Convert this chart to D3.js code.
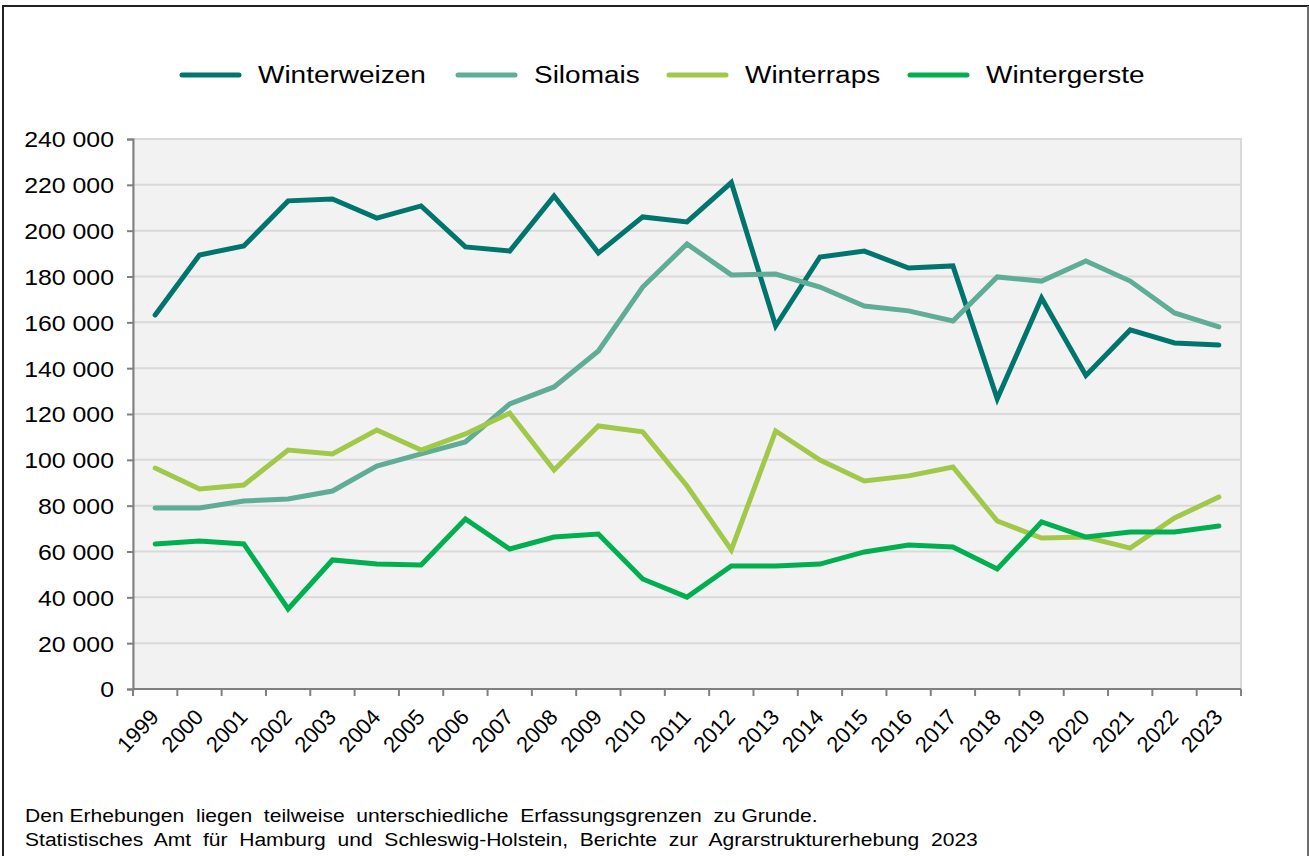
<!DOCTYPE html>
<html><head><meta charset="utf-8">
<script src="https://cdn.jsdelivr.net/npm/d3@7"></script>
<style>
html,body{margin:0;padding:0;background:#fff;}
svg{display:block;font-family:"Liberation Sans",Arial,sans-serif;}
</style></head>
<body>
<svg id="c" width="1309" height="856"></svg>
<script>
const years = ["1999","2000","2001","2002","2003","2004","2005","2006","2007","2008","2009","2010","2011","2012","2013","2014","2015","2016","2017","2018","2019","2020","2021","2022","2023"];
const winterweizen = [163200,189400,193300,213000,213800,205500,210800,192900,191100,215100,190300,206000,203800,221000,158400,188500,191100,183700,184600,126600,170600,136800,156700,151000,150100];
const silomais     = [79000,79000,82000,82900,86400,97300,102600,107800,124400,131800,147500,175400,194200,180700,181100,175400,167100,165000,160600,179800,178000,186800,178000,164100,158000];
const winterraps   = [96400,87300,89000,104300,102600,113000,104300,111300,120400,95600,114800,112200,88600,60700,112600,99900,90800,93000,96900,73300,65900,66300,61500,74600,83800];
const wintergerste = [63300,64600,63300,34900,56300,54500,54100,74200,61100,66300,67600,48000,40100,53700,53700,54500,59800,62800,62000,52400,72900,66300,68500,68500,71100];
const seriesNames = ["Winterweizen","Silomais","Winterraps","Wintergerste"];
const seriesColors = ["#00756e","#5fac97","#a2c84a","#00b050"];
const yTicks = [0,20000,40000,60000,80000,100000,120000,140000,160000,180000,200000,220000,240000];
const footnotes = ["Den Erhebungen  liegen  teilweise  unterschiedliche  Erfassungsgrenzen  zu Grunde.",
                   "Statistisches  Amt  für  Hamburg  und  Schleswig-Holstein,  Berichte  zur  Agrarstrukturerhebung  2023"];

const seriesData = [winterweizen, silomais, winterraps, wintergerste];
const svg = d3.select("#c");
function stretch(sel, k){
  sel.each(function(){
    const w = this.getComputedTextLength();
    d3.select(this).attr("textLength", w*k).attr("lengthAdjust","spacingAndGlyphs");
  });
}

// outer frame
svg.append("rect").attr("x",3).attr("y",6).attr("width",1305).attr("height",860)
  .attr("fill","none").attr("stroke","#222").attr("stroke-width",2);
svg.append("line").attr("x1",1308).attr("x2",1308).attr("y1",6).attr("y2",856).attr("stroke","#888").attr("stroke-width",1.5);

const L=133, R=1241, T=139, B=689;
const x = d3.scaleBand().domain(years).range([L,R]);
const y = d3.scaleLinear().domain([0,240000]).range([B,T]);

// plot background
svg.append("rect").attr("x",L).attr("y",T).attr("width",R-L).attr("height",B-T)
  .attr("fill","#f2f2f2").attr("stroke","#d9d9d9").attr("stroke-width",2);

// gridlines
svg.append("g").selectAll("line").data(yTicks.filter(d=>d>0)).join("line")
  .attr("x1",L).attr("x2",R).attr("y1",d=>y(d)).attr("y2",d=>y(d))
  .attr("stroke","#d9d9d9").attr("stroke-width",2);

// y axis
const fmt = d => d3.format(",")(d).replace(/,/g," ");
const yAxis = svg.append("g").attr("transform",`translate(${L},0)`)
  .call(d3.axisLeft(y).tickValues(yTicks).tickSize(6).tickPadding(13).tickFormat(fmt));
yAxis.select(".domain").attr("stroke","#808080").attr("stroke-width",2);
yAxis.selectAll(".tick line").attr("stroke","#808080").attr("stroke-width",2);
yAxis.selectAll("text").attr("font-size",22).attr("fill","#000").attr("dy","0.36em")
  .attr("font-family","Liberation Sans, Arial, sans-serif");
stretch(yAxis.selectAll("text"), 1.13);

// x axis: ticks at band boundaries
const bounds = years.map(d=>x(d)).concat([R]);
const xg = svg.append("g");
xg.append("line").attr("x1",L).attr("x2",R).attr("y1",B).attr("y2",B).attr("stroke","#808080").attr("stroke-width",2);
xg.selectAll("line.t").data(bounds).join("line").attr("class","t")
  .attr("x1",d=>d).attr("x2",d=>d).attr("y1",B).attr("y2",B+7).attr("stroke","#808080").attr("stroke-width",2);
xg.selectAll("text").data(years).join("text")
  .attr("transform",d=>`translate(${x(d)+x.bandwidth()/2+5},${B+29}) rotate(-47)`)
  .attr("text-anchor","end").attr("font-size",22).attr("fill","#000")
  .text(d=>d);

// lines
const line = d3.line().x((d,i)=>x(years[i])+x.bandwidth()/2).y(d=>y(d));
svg.append("g").selectAll("path").data(seriesData).join("path")
  .attr("d",d=>line(d)).attr("fill","none")
  .attr("stroke",(d,i)=>seriesColors[i]).attr("stroke-width",5)
  .attr("stroke-linejoin","miter").attr("stroke-linecap","round");

// legend
const legX = [182,458,669,910];
const lg = svg.append("g");
seriesNames.forEach((n,i)=>{
  lg.append("line").attr("x1",legX[i]).attr("x2",legX[i]+57).attr("y1",75).attr("y2",75)
    .attr("stroke",seriesColors[i]).attr("stroke-width",5).attr("stroke-linecap","round");
  lg.append("text").attr("x",legX[i]+76).attr("y",75).attr("dy","0.36em")
    .attr("font-size",23.5).attr("fill","#000").text(n);
});
stretch(lg.selectAll("text"), 1.19);

// footnotes
const fg = svg.append("g");
fg.selectAll("text").data(footnotes).join("text")
  .attr("x",25).attr("y",(d,i)=>822+i*24).attr("font-size",18).attr("fill","#000")
  .attr("xml:space","preserve").style("white-space","pre").text(d=>d);
stretch(fg.selectAll("text"), 1.17);
</script>
</body></html>
